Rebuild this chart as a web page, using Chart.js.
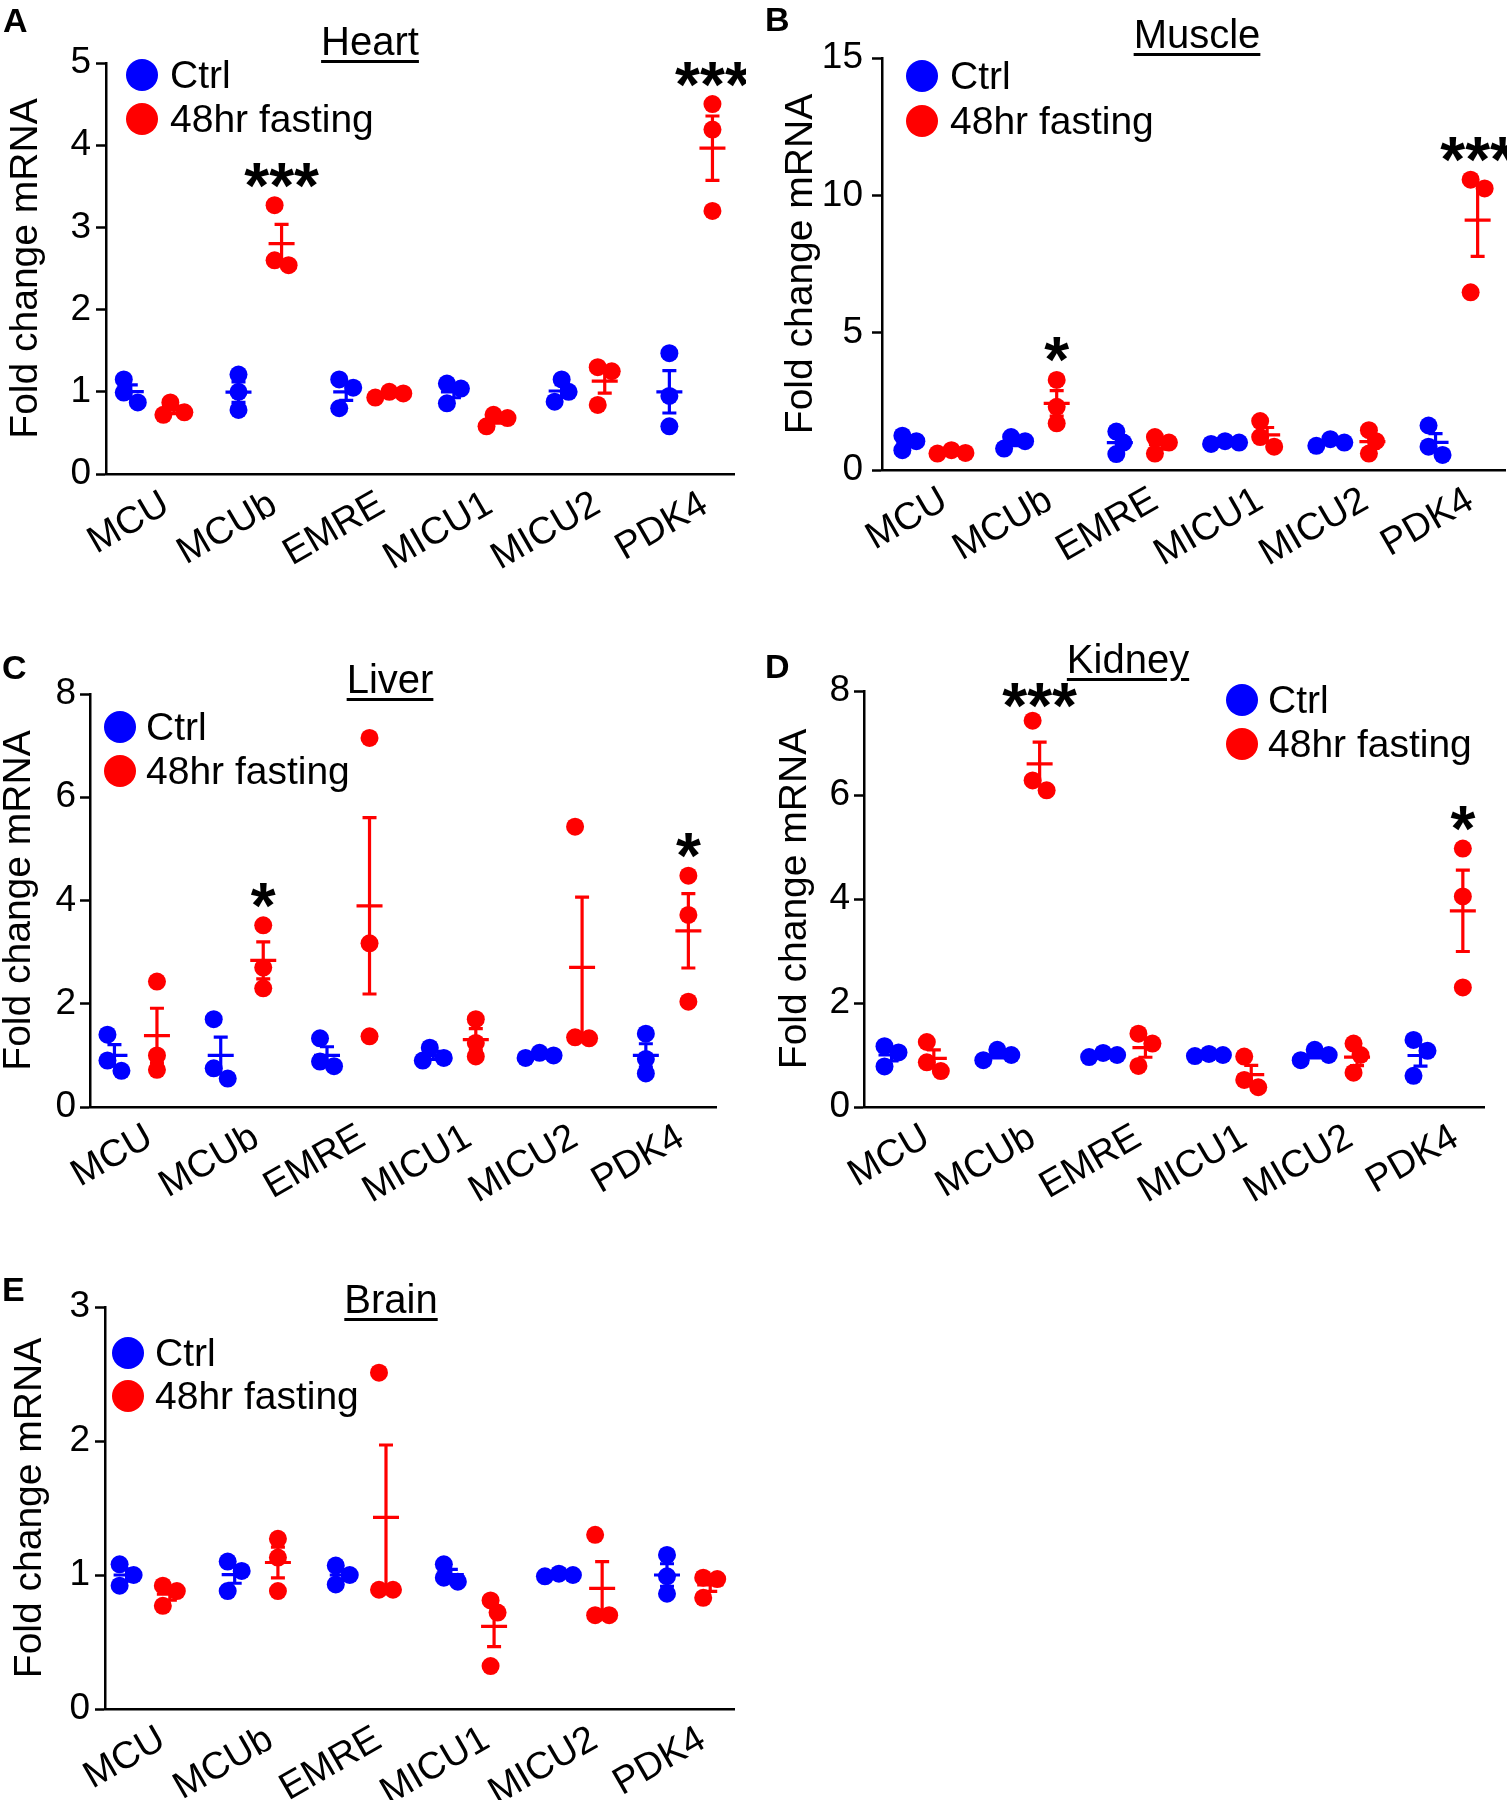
<!DOCTYPE html>
<html>
<head>
<meta charset="utf-8">
<script src="https://cdn.jsdelivr.net/npm/chart.js@4.4.1/dist/chart.umd.min.js"></script>
<style>
  body{margin:0;background:#fff;width:1507px;height:1800px;position:relative;overflow:hidden;font-family:'Liberation Sans',Arial,Helvetica,sans-serif;color:#000}
  canvas{position:absolute}
  .letter{position:absolute;font-weight:bold;font-size:34px;line-height:34px}
  .title{position:absolute;font-size:40px;line-height:40px;white-space:nowrap;text-decoration:underline;text-decoration-thickness:3px;text-underline-offset:5px;transform:translateX(-50%)}
  .legtxt{position:absolute;font-size:39px;line-height:39px;white-space:nowrap}
  .legdot{position:absolute;width:32px;height:32px;border-radius:50%}
</style>
</head>
<body>
<script>
// genes on the x axis
const GENES = ['MCU', 'MCUb', 'EMRE', 'MICU1', 'MICU2', 'PDK4'];

// fold change, 3 animals per gene
const HEART_CTRL = [[1.15, 0.99, 0.87], [1.21, 1.0, 0.78], [1.15, 1.05, 0.80], [1.10, 1.04, 0.86], [1.15, 1.0, 0.88], [1.47, 0.95, 0.58]];
const HEART_FAST = [[0.87, 0.75, 0.72], [3.27, 2.60, 2.54], [1.0, 0.98, 0.93], [0.72, 0.68, 0.58], [1.30, 1.25, 0.84], [4.50, 4.19, 3.20]];
const HEART_SIG = ['', '***', '', '', '', '***'];
const HEART_YTICKS = [0, 1, 2, 3, 4, 5];

const MUSCLE_CTRL = [[1.25, 1.05, 0.72], [1.20, 1.05, 0.78], [1.40, 1.0, 0.58], [1.05, 1.0, 0.95], [1.12, 1.0, 0.88], [1.62, 0.85, 0.55]];
const MUSCLE_FAST = [[0.72, 0.62, 0.60], [3.28, 2.30, 1.70], [1.20, 1.0, 0.60], [1.78, 1.20, 0.85], [1.45, 1.05, 0.60], [10.57, 10.25, 6.47]];
const MUSCLE_SIG = ['', '*', '', '', '', '***'];
const MUSCLE_YTICKS = [0, 5, 10, 15];

const LIVER_CTRL = [[1.40, 0.90, 0.70], [1.70, 0.75, 0.55], [1.33, 0.88, 0.79], [1.15, 0.95, 0.90], [1.05, 1.0, 0.95], [1.42, 0.93, 0.65]];
const LIVER_FAST = [[2.43, 1.0, 0.72], [3.52, 2.70, 2.30], [7.15, 3.17, 1.37], [1.70, 1.24, 0.98], [5.43, 1.35, 1.33], [4.48, 3.72, 2.04]];
const LIVER_SIG = ['', '*', '', '', '', '*'];
const LIVER_YTICKS = [0, 2, 4, 6, 8];

const KIDNEY_CTRL = [[1.17, 1.05, 0.78], [1.10, 1.0, 0.90], [1.04, 1.0, 0.96], [1.02, 1.0, 0.98], [1.10, 1.0, 0.90], [1.29, 1.08, 0.60]];
const KIDNEY_FAST = [[1.25, 0.86, 0.69], [7.43, 6.28, 6.09], [1.41, 1.22, 0.79], [0.97, 0.52, 0.38], [1.22, 1.0, 0.66], [4.97, 4.05, 2.30]];
const KIDNEY_SIG = ['', '***', '', '', '', '*'];
const KIDNEY_YTICKS = [0, 2, 4, 6, 8];

const BRAIN_CTRL = [[1.08, 1.0, 0.92], [1.10, 1.03, 0.88], [1.07, 1.0, 0.93], [1.08, 0.98, 0.95], [1.01, 1.0, 0.99], [1.15, 0.99, 0.86]];
const BRAIN_FAST = [[0.92, 0.88, 0.77], [1.27, 1.13, 0.88], [2.51, 0.89, 0.89], [0.81, 0.72, 0.32], [1.30, 0.70, 0.70], [0.98, 0.97, 0.83]];
const BRAIN_SIG = ['', '', '', '', '', ''];
const BRAIN_YTICKS = [0, 1, 2, 3];

const SERIES = ['Ctrl', '48hr fasting'];
const BLUE = '#0000ff', RED = '#ff0000';
const FONT = "'Liberation Sans', Arial, Helvetica, sans-serif";
Chart.defaults.font.family = FONT;
Chart.defaults.color = '#000';

// page layout, in px
const PANELS = [
  {letter:'A', title:'Heart', ctrl:HEART_CTRL, fast:HEART_FAST, sig:HEART_SIG, yticks:HEART_YTICKS,
   canvas:[-10, 0, 756, 600], plot:[106, 734, 63, 474], xr:[-0.43, 5.40], titlePad:13, tickPad:5,
   lp:[3, 32], tp:[370, 55], leg:[142, 75, 119, 170]},
  {letter:'B', title:'Muscle', ctrl:MUSCLE_CTRL, fast:MUSCLE_FAST, sig:MUSCLE_SIG, yticks:MUSCLE_YTICKS,
   canvas:[746, 0, 800, 600], plot:[882, 1505, 58, 470], xr:[-0.46, 5.46], titlePad:32, tickPad:9,
   lp:[765, 31], tp:[1197, 48], leg:[922, 76, 121, 950]},
  {letter:'C', title:'Liver', ctrl:LIVER_CTRL, fast:LIVER_FAST, sig:LIVER_SIG, yticks:LIVER_YTICKS,
   canvas:[-10, 643, 756, 600], plot:[90, 716, 694, 1107], xr:[-0.43, 5.46], titlePad:6, tickPad:4,
   lp:[2, 679], tp:[390, 693], leg:[120, 727, 771, 146]},
  {letter:'D', title:'Kidney', ctrl:KIDNEY_CTRL, fast:KIDNEY_FAST, sig:KIDNEY_SIG, yticks:KIDNEY_YTICKS,
   canvas:[746, 643, 800, 600], plot:[864, 1484, 691, 1107], xr:[-0.46, 5.40], titlePad:26, tickPad:4,
   lp:[765, 678], tp:[1128, 673], leg:[1242, 700, 744, 1268]},
  {letter:'E', title:'Brain', ctrl:BRAIN_CTRL, fast:BRAIN_FAST, sig:BRAIN_SIG, yticks:BRAIN_YTICKS,
   canvas:[-10, 1262, 756, 538], plot:[105, 734, 1307, 1709], xr:[-0.40, 5.42], titlePad:17, tickPad:5,
   lp:[2, 1301], tp:[391, 1313], leg:[128, 1353, 1396, 155]}
];

function el(cls, text, css){
  const d = document.createElement('div');
  d.className = cls;
  if(text) d.textContent = text;
  Object.assign(d.style, css);
  document.body.appendChild(d);
  return d;
}

// push overlapping dots sideways, the way prism lays out a column
function spread(vals, pxY, pxX){
  const placed = [];
  const offs = vals.map(v => {
    const o = [0, 7, -7, 14, -14].find(c => placed.every(p => Math.hypot(p.o - c, (p.v - v) * pxY) >= 13)) ?? 0;
    placed.push({v, o});
    return o;
  });
  const mid = (Math.max(...offs) + Math.min(...offs)) / 2;
  return offs.map(o => (o - mid) / pxX);
}

const stats = vals => {
  const n = vals.length, m = vals.reduce((a, b) => a + b, 0) / n;
  const sd = Math.sqrt(vals.reduce((a, v) => a + (v - m) ** 2, 0) / (n - 1));
  return {m, se: sd / Math.sqrt(n)};
};

// mean line + SEM whiskers
function errorBars(groups){
  return {id:'errorBars', afterDatasetsDraw(chart){
    const {ctx, scales:{x, y}} = chart;
    ctx.save();
    ctx.lineWidth = 3.2;
    groups.forEach(g => {
      const {m, se} = stats(g.vals);
      const px = x.getPixelForValue(g.x), pm = y.getPixelForValue(m);
      const pt = y.getPixelForValue(m + se), pb = y.getPixelForValue(m - se);
      ctx.strokeStyle = g.color;
      ctx.beginPath();
      ctx.moveTo(px, pt); ctx.lineTo(px, pb);
      ctx.moveTo(px - 13, pm); ctx.lineTo(px + 13, pm);
      ctx.moveTo(px - 7, pt); ctx.lineTo(px + 7, pt);
      ctx.moveTo(px - 7, pb); ctx.lineTo(px + 7, pb);
      ctx.stroke();
    });
    ctx.restore();
  }};
}

function stars(sig, fast){
  return {id:'stars', afterDatasetsDraw(chart){
    const {ctx, scales:{x, y}} = chart;
    ctx.save();
    ctx.font = 'bold 64px ' + FONT;
    ctx.fillStyle = '#000';
    ctx.textAlign = 'center';
    ctx.textBaseline = 'alphabetic';
    sig.forEach((s, i) => {
      if(!s) return;
      const c = Math.max(y.getPixelForValue(Math.max(...fast[i])) - 30, y.top + 4);
      const mt = ctx.measureText(s);
      ctx.fillText(s, x.getPixelForValue(i + 0.2), c + (mt.actualBoundingBoxAscent - mt.actualBoundingBoxDescent) / 2);
    });
    ctx.restore();
  }};
}

function makePanel(p){
  const [cl, ct, cw, ch] = p.canvas;
  const [l, r, t, b] = p.plot;
  const ymax = p.yticks[p.yticks.length - 1];
  const pxY = (b - t) / ymax, pxX = (r - l) / (p.xr[1] - p.xr[0]);
  const cv = document.createElement('canvas');
  cv.width = cw; cv.height = ch;
  cv.style.left = cl + 'px'; cv.style.top = ct + 'px';
  document.body.appendChild(cv);

  const pts = (groups, shift) => groups.flatMap((g, i) => {
    const offs = spread(g, pxY, pxX);
    return g.map((v, k) => ({x: i + shift + offs[k], y: v}));
  });
  const bars = [
    ...p.ctrl.map((g, i) => ({x: i - 0.2, vals: g, color: BLUE})),
    ...p.fast.map((g, i) => ({x: i + 0.2, vals: g, color: RED}))
  ];
  const xH = ct + ch - b;

  new Chart(cv, {
    type: 'scatter',
    data: {datasets: [
      {label: SERIES[0], data: pts(p.ctrl, -0.2), backgroundColor: BLUE, pointRadius: 9, pointHoverRadius: 9, borderWidth: 0, clip: false},
      {label: SERIES[1], data: pts(p.fast, 0.2), backgroundColor: RED, pointRadius: 9, pointHoverRadius: 9, borderWidth: 0, clip: false}
    ]},
    options: {
      responsive: false, animation: false, devicePixelRatio: 1,
      layout: {padding: {left: 0, top: t - ct, right: cl + cw - r, bottom: 0}},
      plugins: {legend: {display: false}, tooltip: {enabled: false}},
      scales: {
        x: {
          type: 'linear', min: p.xr[0], max: p.xr[1],
          afterBuildTicks: s => { s.ticks = GENES.map((g, i) => ({value: i})); },
          afterFit: s => { s.height = xH; },
          ticks: {callback: v => GENES[v], minRotation: 30, maxRotation: 30, autoSkip: false, labelOffset: 14, padding: 0, font: {size: 38}, color: '#000'},
          grid: {display: false},
          border: {display: true, color: '#000', width: 2.5}
        },
        y: {
          min: 0, max: ymax,
          afterBuildTicks: s => { s.ticks = p.yticks.map(v => ({value: v})); },
          afterFit: s => { s.width = l - cl; },
          ticks: {padding: p.tickPad, font: {size: 37}, color: '#000'},
          grid: {drawOnChartArea: false, drawTicks: true, tickLength: 10, tickWidth: 2.5, color: '#000'},
          border: {display: true, color: '#000', width: 2.5},
          title: {display: true, text: 'Fold change mRNA', font: {size: 39}, color: '#000', padding: {top: p.titlePad, bottom: 0}}
        }
      }
    },
    plugins: [errorBars(bars), stars(p.sig, p.fast)]
  });

  // panel letter, underlined tissue name, legend
  el('letter', p.letter, {left: p.lp[0] + 'px', top: (p.lp[1] - 0.8465 * 34) + 'px'});
  el('title', p.title, {left: p.tp[0] + 'px', top: (p.tp[1] - 0.8465 * 40) + 'px'});
  const [dx, y1, y2, tx] = p.leg;
  [[SERIES[0], BLUE, y1], [SERIES[1], RED, y2]].forEach(([txt, col, cy]) => {
    el('legdot', '', {left: (dx - 16) + 'px', top: (cy - 16) + 'px', background: col});
    el('legtxt', txt, {left: tx + 'px', top: (cy + 13 - 0.8465 * 39) + 'px'});
  });
}

PANELS.forEach(makePanel);
</script>
</body>
</html>
